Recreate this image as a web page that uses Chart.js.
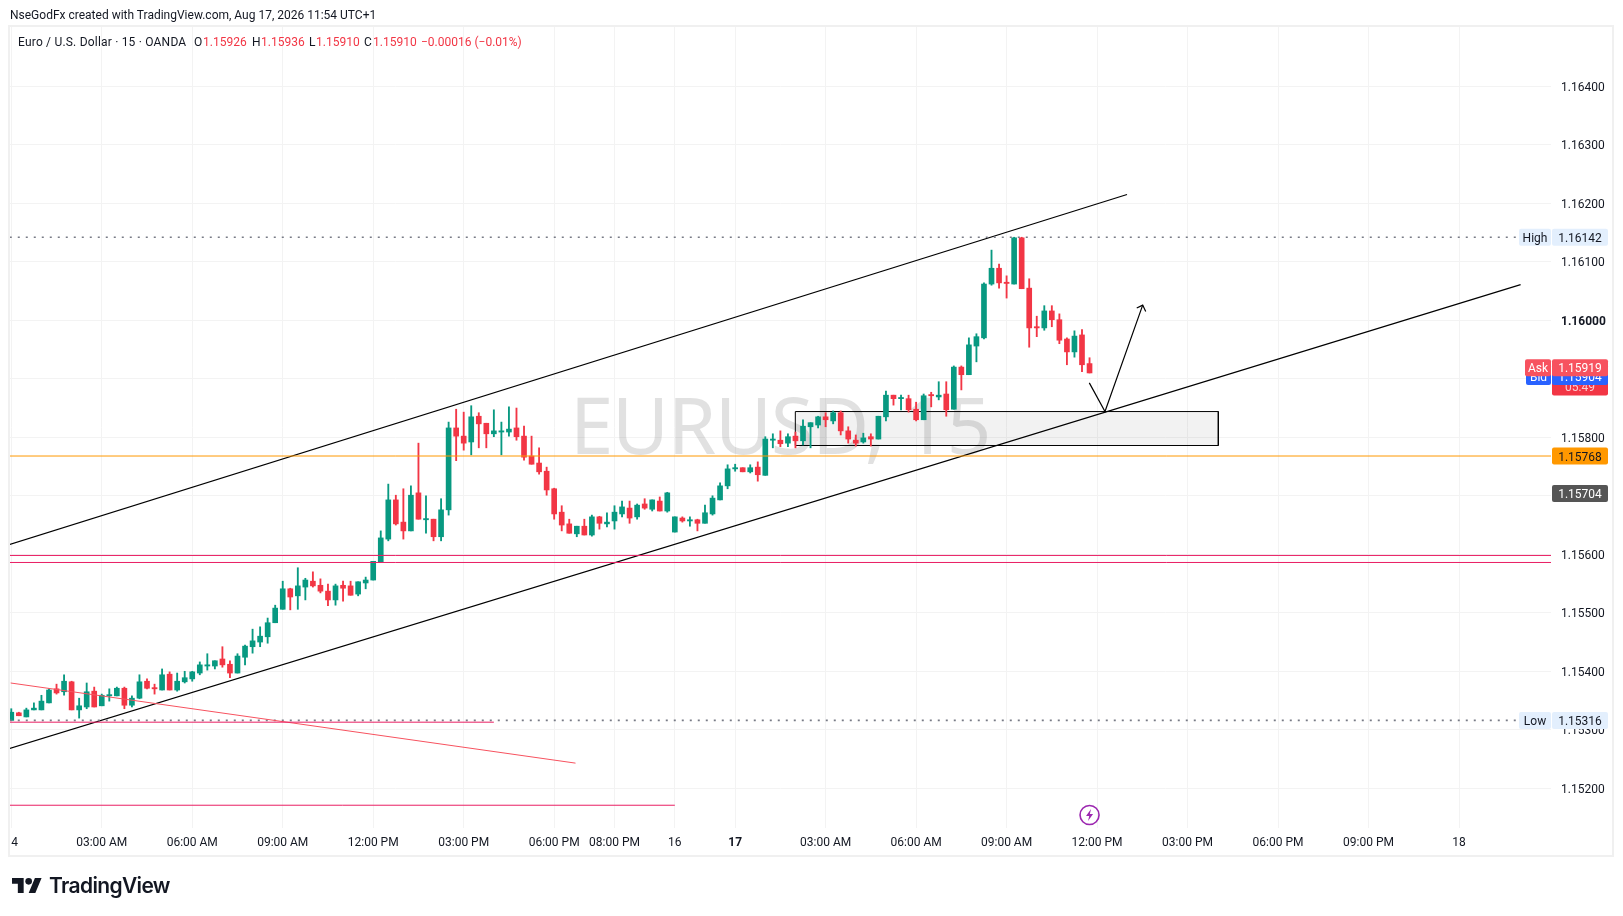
<!DOCTYPE html>
<html>
<head>
<meta charset="utf-8">
<title>EURUSD 15</title>
<script src="https://cdn.jsdelivr.net/npm/chart.js@4/dist/chart.umd.min.js"></script>
<style>
  html, body { margin: 0; padding: 0; background: #fff; width: 1623px; height: 916px; overflow: hidden; }
  #grafico { position: absolute; left: 0; top: 0; }
  .txt { position: absolute; font: 12px Roboto, sans-serif; color: #131722; white-space: nowrap; line-height: 14px; }
  .red { color: #f23645; }
  #logo { position: absolute; left: 12px; top: 878px; }
  #logoTxt { position: absolute; left: 49px; top: 871px; font: 600 21px Inter, sans-serif; color: #131722; letter-spacing: -0.65px; line-height: 30px; }
</style>
</head>
<body>
<canvas id="grafico" width="1623" height="916"></canvas>
<div class="txt" style="left:10px;top:8px">NseGodFx created with TradingView.com, Aug 17, 2026 11:54 UTC+1</div>
<div class="txt" style="left:18px;top:35px;letter-spacing:0.2px">Euro / U.S. Dollar · 15 · OANDA</div>
<div class="txt" style="left:194px;top:35px">O</div><div class="txt red" style="left:203px;top:35px">1.15926</div>
<div class="txt" style="left:252px;top:35px">H</div><div class="txt red" style="left:261px;top:35px">1.15936</div>
<div class="txt" style="left:309px;top:35px">L</div><div class="txt red" style="left:316px;top:35px">1.15910</div>
<div class="txt" style="left:364px;top:35px">C</div><div class="txt red" style="left:373px;top:35px">1.15910</div>
<div class="txt red" style="left:421px;top:35px">−0.00016 (−0.01%)</div>
<svg id="logo" width="30" height="15" viewBox="0 4 36 18"><path fill="#131722" d="M14 22H7V11H0V4h14v18zM28 22h-8l7.5-18h8L28 22z"/><circle fill="#131722" cx="20" cy="8" r="4"/></svg>
<div id="logoTxt">TradingView</div>

<script>
// velas de 15 min (indice 0 = meia-noite do dia 14)
const abre = [
  1.15316,1.15329,1.15322,1.15334,1.15334,1.15346,1.15370,1.15365,1.15382,1.15334,
  1.15339,1.15366,1.15341,1.15358,1.15358,1.15371,1.15342,1.15354,1.15383,1.15371,
  1.15368,1.15395,1.15368,1.15382,1.15387,1.15397,1.15409,1.15409,1.15421,1.15412,
  1.15397,1.15424,1.15442,1.15450,1.15459,1.15483,1.15506,1.15541,1.15529,1.15544,
  1.15554,1.15547,1.15537,1.15522,1.15547,1.15546,1.15532,1.15551,1.15556,1.15587,
  1.15626,1.15693,1.15655,1.15640,1.15705,1.15659,1.15660,1.15630,1.15676,1.15816,
  1.15802,1.15792,1.15836,1.15824,1.15806,1.15809,1.15809,1.15816,1.15802,1.15768,
  1.15756,1.15742,1.15712,1.15672,1.15652,1.15635,1.15648,1.15633,1.15664,1.15652,
  1.15657,1.15669,1.15679,1.15664,1.15686,1.15677,1.15691,1.15674,1.15638,1.15662,
  1.15657,1.15659,1.15653,1.15669,1.15693,1.15717,1.15746,1.15748,1.15741,1.15749,
  1.15735,1.15795,1.15795,1.15790,1.15802,1.15794,1.15818,1.15821,1.15835,1.15828,
  1.15842,1.15811,1.15795,1.15792,1.15801,1.15797,1.15835,1.15872,1.15866,1.15866,
  1.15848,1.15830,1.15873,1.15869,1.15874,1.15848,1.15920,1.15907,1.15956,1.15970,
  1.16062,1.16089,1.16064,1.16062,1.16141,1.16055,1.15989,1.15987,1.16016,1.16001,
  1.15968,1.15946,1.15975,1.15926
];
const maximo = [
  1.15336,1.15330,1.15337,1.15346,1.15359,1.15370,1.15378,1.15394,1.15383,1.15354,
  1.15380,1.15373,1.15361,1.15370,1.15373,1.15373,1.15358,1.15394,1.15387,1.15378,
  1.15404,1.15399,1.15397,1.15400,1.15400,1.15416,1.15430,1.15418,1.15442,1.15418,
  1.15430,1.15445,1.15472,1.15476,1.15491,1.15513,1.15554,1.15542,1.15577,1.15559,
  1.15570,1.15558,1.15549,1.15549,1.15554,1.15554,1.15553,1.15561,1.15588,1.15640,
  1.15720,1.15701,1.15712,1.15717,1.15790,1.15700,1.15660,1.15695,1.15826,1.15848,
  1.15843,1.15854,1.15842,1.15824,1.15847,1.15826,1.15852,1.15850,1.15819,1.15802,
  1.15782,1.15749,1.15713,1.15683,1.15660,1.15648,1.15660,1.15667,1.15665,1.15671,
  1.15683,1.15691,1.15691,1.15686,1.15695,1.15693,1.15698,1.15706,1.15664,1.15664,
  1.15664,1.15660,1.15684,1.15700,1.15722,1.15753,1.15754,1.15748,1.15753,1.15758,
  1.15801,1.15806,1.15811,1.15806,1.15809,1.15830,1.15825,1.15836,1.15842,1.15845,
  1.15845,1.15818,1.15804,1.15807,1.15806,1.15836,1.15879,1.15872,1.15872,1.15872,
  1.15860,1.15874,1.15877,1.15895,1.15895,1.15922,1.15922,1.15970,1.15977,1.16064,
  1.16120,1.16096,1.16076,1.16142,1.16142,1.16071,1.16007,1.16025,1.16025,1.16011,
  1.15970,1.15982,1.15984,1.15936
];
const minimo = [
  1.15316,1.15324,1.15322,1.15334,1.15334,1.15346,1.15361,1.15359,1.15334,1.15320,
  1.15336,1.15339,1.15341,1.15349,1.15358,1.15336,1.15339,1.15353,1.15370,1.15361,
  1.15368,1.15368,1.15366,1.15380,1.15383,1.15394,1.15402,1.15404,1.15407,1.15389,
  1.15397,1.15411,1.15431,1.15442,1.15448,1.15483,1.15506,1.15505,1.15506,1.15522,
  1.15544,1.15534,1.15512,1.15513,1.15520,1.15530,1.15529,1.15541,1.15556,1.15587,
  1.15623,1.15650,1.15626,1.15640,1.15660,1.15636,1.15623,1.15623,1.15667,1.15760,
  1.15778,1.15770,1.15782,1.15782,1.15801,1.15770,1.15802,1.15795,1.15761,1.15754,
  1.15737,1.15701,1.15660,1.15640,1.15636,1.15630,1.15633,1.15631,1.15643,1.15647,
  1.15643,1.15664,1.15653,1.15660,1.15677,1.15674,1.15674,1.15672,1.15638,1.15655,
  1.15648,1.15640,1.15653,1.15667,1.15693,1.15712,1.15742,1.15741,1.15739,1.15725,
  1.15735,1.15782,1.15784,1.15784,1.15782,1.15787,1.15782,1.15816,1.15818,1.15823,
  1.15804,1.15790,1.15785,1.15790,1.15785,1.15797,1.15828,1.15855,1.15847,1.15843,
  1.15828,1.15830,1.15852,1.15864,1.15836,1.15848,1.15881,1.15907,1.15929,1.15968,
  1.16060,1.16055,1.16038,1.16062,1.16054,1.15954,1.15972,1.15983,1.15989,1.15960,
  1.15924,1.15937,1.15912,1.15910
];
const fecha = [
  1.15330,1.15324,1.15334,1.15337,1.15349,1.15368,1.15363,1.15383,1.15334,1.15341,
  1.15365,1.15339,1.15359,1.15359,1.15371,1.15342,1.15354,1.15382,1.15371,1.15370,
  1.15394,1.15368,1.15383,1.15389,1.15399,1.15411,1.15411,1.15418,1.15411,1.15397,
  1.15426,1.15443,1.15452,1.15460,1.15483,1.15508,1.15541,1.15527,1.15546,1.15556,
  1.15546,1.15537,1.15522,1.15546,1.15542,1.15530,1.15553,1.15556,1.15588,1.15628,
  1.15693,1.15652,1.15640,1.15701,1.15660,1.15661,1.15630,1.15676,1.15816,1.15802,
  1.15790,1.15835,1.15823,1.15806,1.15811,1.15811,1.15814,1.15801,1.15766,1.15754,
  1.15741,1.15710,1.15669,1.15650,1.15636,1.15648,1.15633,1.15664,1.15653,1.15655,
  1.15672,1.15681,1.15662,1.15684,1.15679,1.15693,1.15674,1.15705,1.15664,1.15657,
  1.15659,1.15653,1.15671,1.15696,1.15717,1.15746,1.15748,1.15741,1.15748,1.15736,
  1.15797,1.15797,1.15789,1.15801,1.15794,1.15819,1.15825,1.15835,1.15830,1.15842,
  1.15811,1.15797,1.15790,1.15799,1.15797,1.15836,1.15872,1.15866,1.15868,1.15847,
  1.15830,1.15871,1.15871,1.15872,1.15847,1.15920,1.15907,1.15958,1.15972,1.16062,
  1.16089,1.16064,1.16063,1.16141,1.16054,1.15987,1.15987,1.16016,1.16001,1.15966,
  1.15946,1.15973,1.15924,1.15910
];

// eixos
const precosEixo = [1.152,1.153,1.154,1.155,1.156,1.157,1.158,1.159,1.160,1.161,1.162,1.163,1.164];
const indicesTempo = [0,12,24,36,48,60,72,80,88,96,108,120,132,144,156,168,180,192];
const rotulosTempo = ["14","03:00 AM","06:00 AM","09:00 AM","12:00 PM","03:00 PM","06:00 PM","08:00 PM","16","17",
  "03:00 AM","06:00 AM","09:00 AM","12:00 PM","03:00 PM","06:00 PM","09:00 PM","18"];

// niveis e desenhos do analista: [indice, preco]
const canalSuperior = [[-0.2,1.15617],[147.97,1.16215]];
const canalInferior = [[-0.2,1.15268],[200.17,1.16061]];
const seta = [[142.97,1.15893],[145.05,1.15844],[150.05,1.16026]];
const pontaSeta = [[149.26,1.16021],[150.05,1.16026],[150.45,1.16015]];
const zona = [[103.98,1.15844],[160.08,1.15844],[160.08,1.15786],[103.98,1.15786],[103.98,1.15844]];
const linhaLaranja = [[-0.2,1.15768],[204.3,1.15768]];
const rosaA = [[-0.2,1.15598],[204.3,1.15598]];
const rosaB = [[-0.2,1.15586],[204.3,1.15586]];
const rosaC = [[-0.2,1.15313],[64,1.15313]];
const rosaD = [[-0.2,1.15171],[88,1.15171]];
const diagonalVermelha = [[-0.08,1.15380],[74.83,1.15243]];
const linhaMaxima = [[-0.2,1.16142],[200,1.16142]];
const linhaMinima = [[-0.2,1.15316],[200,1.15316]];

const VERDE = "#089981";
const VERMELHO = "#f23645";
const FONTE = "Roboto, sans-serif";
const GRADE = "#f3f3f3";

const corVela = abre.map((o, i) => (fecha[i] >= o ? VERDE : VERMELHO));

function linha(pontos, cor, extra) {
    return Object.assign({
        type: "line",
        data: pontos.map(p => ({ x: p[0], y: p[1] })),
        borderColor: cor,
        borderWidth: 1,
        pointRadius: 0,
        fill: false,
        tension: 0,
        order: 1,
    }, extra);
}

function etiqueta(ctx, x, y, w, h, fundo, texto, corTexto) {
    ctx.fillStyle = fundo;
    ctx.beginPath();
    ctx.roundRect(x, y, w, h, 2);
    ctx.fill();
    ctx.fillStyle = corTexto;
    ctx.font = "12px " + FONTE;
    ctx.textAlign = "center";
    ctx.textBaseline = "middle";
    ctx.fillText(texto, x + w / 2, y + h / 2 + 1.5);
}

const desenhos = {
    id: "desenhos",
    beforeDatasetsDraw(chart) {
        const ctx = chart.ctx;
        ctx.save();
        ctx.fillStyle = "rgba(120,120,120,0.22)";
        ctx.font = "78px 'Noto Sans', sans-serif";
        ctx.letterSpacing = "-1.3px";
        ctx.textAlign = "center";
        ctx.textBaseline = "alphabetic";
        ctx.fillText("EURUSD, 15", 780, 454);
        ctx.restore();
    },
    afterDraw(chart) {
        const ctx = chart.ctx;
        const y = chart.scales.y;
        const xs = chart.scales.x;
        ctx.save();

        // rotulos do eixo de precos
        const alto = 17, ex = 1552, largura = 56;
        const yAlta = y.getPixelForValue(1.16142);
        etiqueta(ctx, 1519, yAlta - alto / 2, 32, alto, "#e3effd", "High", "#131722");
        etiqueta(ctx, ex, yAlta - alto / 2, largura, alto, "#e3effd", "1.16142", "#131722");
        const yBaixa = y.getPixelForValue(1.15316);
        etiqueta(ctx, 1519, yBaixa - alto / 2, 32, alto, "#e3effd", "Low", "#131722");
        etiqueta(ctx, ex, yBaixa - alto / 2, largura, alto, "#e3effd", "1.15316", "#131722");

        const yUltimo = y.getPixelForValue(1.15910);
        ctx.fillStyle = VERMELHO;
        ctx.beginPath();
        ctx.roundRect(ex, yUltimo - 8.5, largura, 31, 2);
        ctx.fill();
        ctx.fillStyle = "rgba(255,255,255,0.75)";
        ctx.font = "12px " + FONTE;
        ctx.textAlign = "center";
        ctx.textBaseline = "middle";
        ctx.fillText("05:49", ex + largura / 2, yUltimo + 15);

        const yBid = y.getPixelForValue(1.15904);
        etiqueta(ctx, 1526, yBid - alto / 2, 25, alto, "#2962ff", "Bid", "#fff");
        etiqueta(ctx, ex, yBid - alto / 2, largura, alto, "#2962ff", "1.15904", "#fff");
        const yAsk = y.getPixelForValue(1.15919);
        etiqueta(ctx, 1525, yAsk - alto / 2, 26, alto, "#f7525f", "Ask", "#fff");
        etiqueta(ctx, ex, yAsk - alto / 2, largura, alto, "#f7525f", "1.15919", "#fff");

        const yLaranja = y.getPixelForValue(1.15768);
        etiqueta(ctx, ex, yLaranja - alto / 2, largura, alto, "#ff9800", "1.15768", "#131722");
        const yCinza = y.getPixelForValue(1.15704);
        etiqueta(ctx, ex, yCinza - alto / 2, largura, alto, "#555555", "1.15704", "#fff");

        // icone do raio
        const cx = xs.getPixelForValue(143), cy = 815;
        ctx.strokeStyle = "#9c27b0";
        ctx.lineWidth = 1.6;
        ctx.beginPath();
        ctx.arc(cx, cy, 9.5, 0, Math.PI * 2);
        ctx.stroke();
        ctx.fillStyle = "#9c27b0";
        ctx.beginPath();
        ctx.moveTo(cx + 1.5, cy - 6);
        ctx.lineTo(cx - 3.5, cy + 1);
        ctx.lineTo(cx - 0.3, cy + 1);
        ctx.lineTo(cx - 1.5, cy + 6);
        ctx.lineTo(cx + 3.5, cy - 1);
        ctx.lineTo(cx + 0.3, cy - 1);
        ctx.closePath();
        ctx.fill();

        // corta o "1" do dia 14 e desenha a moldura
        ctx.fillStyle = "#fff";
        ctx.fillRect(0, 828, 10, 27);
        ctx.strokeStyle = "#f0f0f0";
        ctx.lineWidth = 2;
        ctx.strokeRect(9, 26, 1604, 830);
        ctx.restore();
    }
};

const rotuloDe = v => rotulosTempo[indicesTempo.indexOf(v)];

new Chart(document.getElementById("grafico"), {
    type: "bar",
    data: {
        datasets: [
            linha(canalSuperior, "#000000", { order: 6, borderWidth: 1.2 }),
            linha(canalInferior, "#000000", { order: 6, borderWidth: 1.2 }),
            linha(zona, "#000000", { fill: "shape", backgroundColor: "rgba(0,0,0,0.05)", order: 5 }),
            {
                data: abre.map((_, i) => ({ x: i, y: [minimo[i], maximo[i]] })),
                backgroundColor: corVela,
                barThickness: 1.2,
                grouped: false,
                order: 4,
            },
            {
                data: abre.map((o, i) => ({ x: i, y: [o, fecha[i]] })),
                backgroundColor: corVela,
                barThickness: 5,
                grouped: false,
                minBarLength: 1.2,
                order: 3,
            },
            linha(linhaLaranja, "#ff9800"),
            linha(rosaA, "#e91e63"),
            linha(rosaB, "#e91e63"),
            linha(rosaC, "#e91e63"),
            linha(rosaD, "#e91e63"),
            linha(diagonalVermelha, "#f7525f"),
            linha(linhaMaxima, "#787b86", { borderDash: [2, 6], borderWidth: 1.6 }),
            linha(linhaMinima, "#787b86", { borderDash: [2, 6], borderWidth: 1.6 }),
            linha(seta, "#000000", { borderWidth: 1.2 }),
            linha(pontaSeta, "#000000", { borderWidth: 1.2 }),
        ]
    },
    options: {
        responsive: false,
        animation: false,
        devicePixelRatio: 1,
        layout: { padding: { left: 10, top: 27, right: 11, bottom: 60 } },
        plugins: { legend: { display: false }, tooltip: { enabled: false }, title: { display: false } },
        scales: {
            x: {
                type: "linear",
                offset: false,
                min: -0.17,
                max: 204.2,
                afterBuildTicks: s => { s.ticks = indicesTempo.map(v => ({ value: v })); },
                afterFit: s => { s.height = 28; s.paddingLeft = 0; s.paddingRight = 0; },
                grid: { color: GRADE, offset: false, drawTicks: false, lineWidth: 1 },
                border: { display: false },
                ticks: {
                    autoSkip: false,
                    maxRotation: 0,
                    padding: 8,
                    color: "#131722",
                    font: c => ({ family: FONTE, size: 12, weight: c.tick && rotuloDe(c.tick.value) === "17" ? "bold" : "normal" }),
                    callback: v => rotuloDe(v),
                },
            },
            y: {
                type: "linear",
                position: "right",
                min: 1.151321,
                max: 1.165014,
                afterBuildTicks: s => { s.ticks = precosEixo.map(v => ({ value: v })); },
                afterFit: s => { s.width = 61; s.paddingTop = 0; s.paddingBottom = 0; },
                grid: { color: GRADE, drawTicks: false, lineWidth: 1 },
                border: { display: false },
                ticks: {
                    padding: 10,
                    labelOffset: 1.5,
                    color: "#131722",
                    font: c => ({ family: FONTE, size: 12, weight: c.tick && c.tick.value === 1.160 ? "bold" : "normal" }),
                    callback: v => v.toFixed(5),
                },
            },
        },
    },
    plugins: [desenhos],
});
</script>
</body>
</html>
